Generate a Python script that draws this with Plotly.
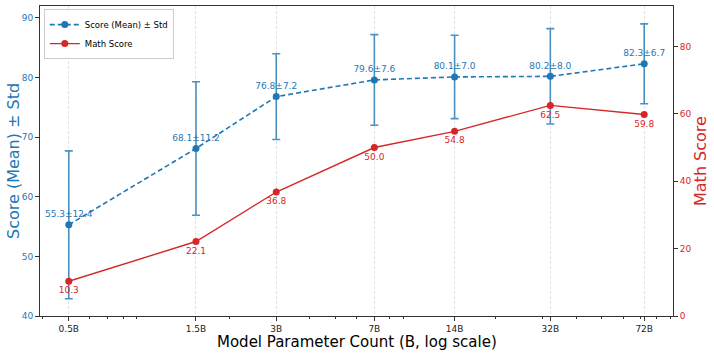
import plotly.graph_objects as go
import numpy as np

params = [0.5, 1.5, 3, 7, 14, 32, 72]
tick_labels = ["0.5B", "1.5B", "3B", "7B", "14B", "32B", "72B"]
score_mean = [55.3, 68.1, 76.8, 79.6, 80.1, 80.2, 82.3]
score_std = [12.4, 11.2, 7.2, 7.6, 7.0, 8.0, 6.7]
math_score = [10.3, 22.1, 36.8, 50.0, 54.8, 62.5, 59.8]

BLUE = "#1f77b4"
RED = "#d62728"
FONT = "DejaVu Sans"

minor_vals = [m * 10.0 ** e for e in (-1, 0, 1) for m in range(2, 10)]
minor_vals = [v for v in minor_vals if 0.38 < v < 92]

fig = go.Figure()
fig.add_trace(go.Scatter(
    x=params, y=score_mean, name="Score (Mean) ± Std",
    mode="lines+markers+text",
    line=dict(color=BLUE, width=1.6, dash="5px,3px"),
    marker=dict(color=BLUE, size=7),
    error_y=dict(type="data", array=score_std, visible=True,
                 color="rgba(31,119,180,0.8)", thickness=1.6, width=4),
    text=[f"{m:.1f}±{s:.1f}" for m, s in zip(score_mean, score_std)],
    textposition="top center",
    textfont=dict(color=BLUE, size=9, family=FONT),
    yaxis="y",
))
fig.add_trace(go.Scatter(
    x=params, y=math_score, name="Math Score",
    mode="lines+markers+text",
    line=dict(color=RED, width=1.4),
    marker=dict(color=RED, size=7),
    text=[f"{v:.1f}" for v in math_score],
    textposition="bottom center",
    textfont=dict(color=RED, size=9, family=FONT),
    yaxis="y2",
))

xr = [np.log10(0.5) - 0.108, np.log10(72) + 0.108]
fig.update_layout(
    width=714, height=354,
    margin=dict(l=40, r=41, t=6, b=38, autoexpand=False),
    paper_bgcolor="white", plot_bgcolor="white",
    font=dict(family=FONT, size=9, color="black"),
    showlegend=True,
    legend=dict(x=0.006, y=0.99, xanchor="left", yanchor="top",
                bgcolor="rgba(255,255,255,0.9)", bordercolor="#cccccc", borderwidth=1,
                font=dict(size=8.5, family=FONT), tracegroupgap=0, itemwidth=30),
    xaxis=dict(
        type="log", range=xr, automargin=False,
        tickmode="array", tickvals=params, ticktext=tick_labels,
        ticks="outside", ticklen=4, tickcolor="#333", tickfont=dict(size=9, color="#222"),
        showline=True, linecolor="#333", linewidth=1, mirror=True,
        showgrid=True, gridcolor="#e2e2e2", griddash="3px,2px", gridwidth=1,
        minor=dict(tickmode="array", tickvals=minor_vals, ticks="outside", ticklen=2,
                   tickcolor="#333", showgrid=False),
        zeroline=False,
    ),
    yaxis=dict(
        range=[40, 92], tickvals=[40, 50, 60, 70, 80, 90], automargin=False,
        ticks="outside", ticklen=4, tickcolor="#333", tickfont=dict(size=9, color=BLUE),
        showline=True, linecolor="#333", linewidth=1,
        showgrid=False, zeroline=False,
    ),
    yaxis2=dict(
        range=[0, 92], tickvals=[0, 20, 40, 60, 80], automargin=False,
        overlaying="y", side="right",
        ticks="outside", ticklen=4, tickcolor="#333", tickfont=dict(size=9, color=RED),
        showline=True, linecolor="#333", linewidth=1,
        showgrid=False, zeroline=False,
    ),
    annotations=[
        dict(text="Model Parameter Count (B, log scale)", xref="paper", yref="paper",
             x=0.5, y=0, yshift=-26, xanchor="center", yanchor="middle", showarrow=False,
             font=dict(size=15, color="black", family=FONT)),
        dict(text="Score (Mean) ± Std", xref="paper", yref="paper",
             x=0, y=0.5, xshift=-27, xanchor="center", yanchor="middle", showarrow=False,
             textangle=-90, font=dict(size=16, color=BLUE, family=FONT)),
        dict(text="Math Score", xref="paper", yref="paper",
             x=1, y=0.5, xshift=27, xanchor="center", yanchor="middle", showarrow=False,
             textangle=-90, font=dict(size=16, color=RED, family=FONT)),
    ],
)
fig.write_html("out.html", config={"displayModeBar": False},
               post_script="document.body.style.margin='0';")
